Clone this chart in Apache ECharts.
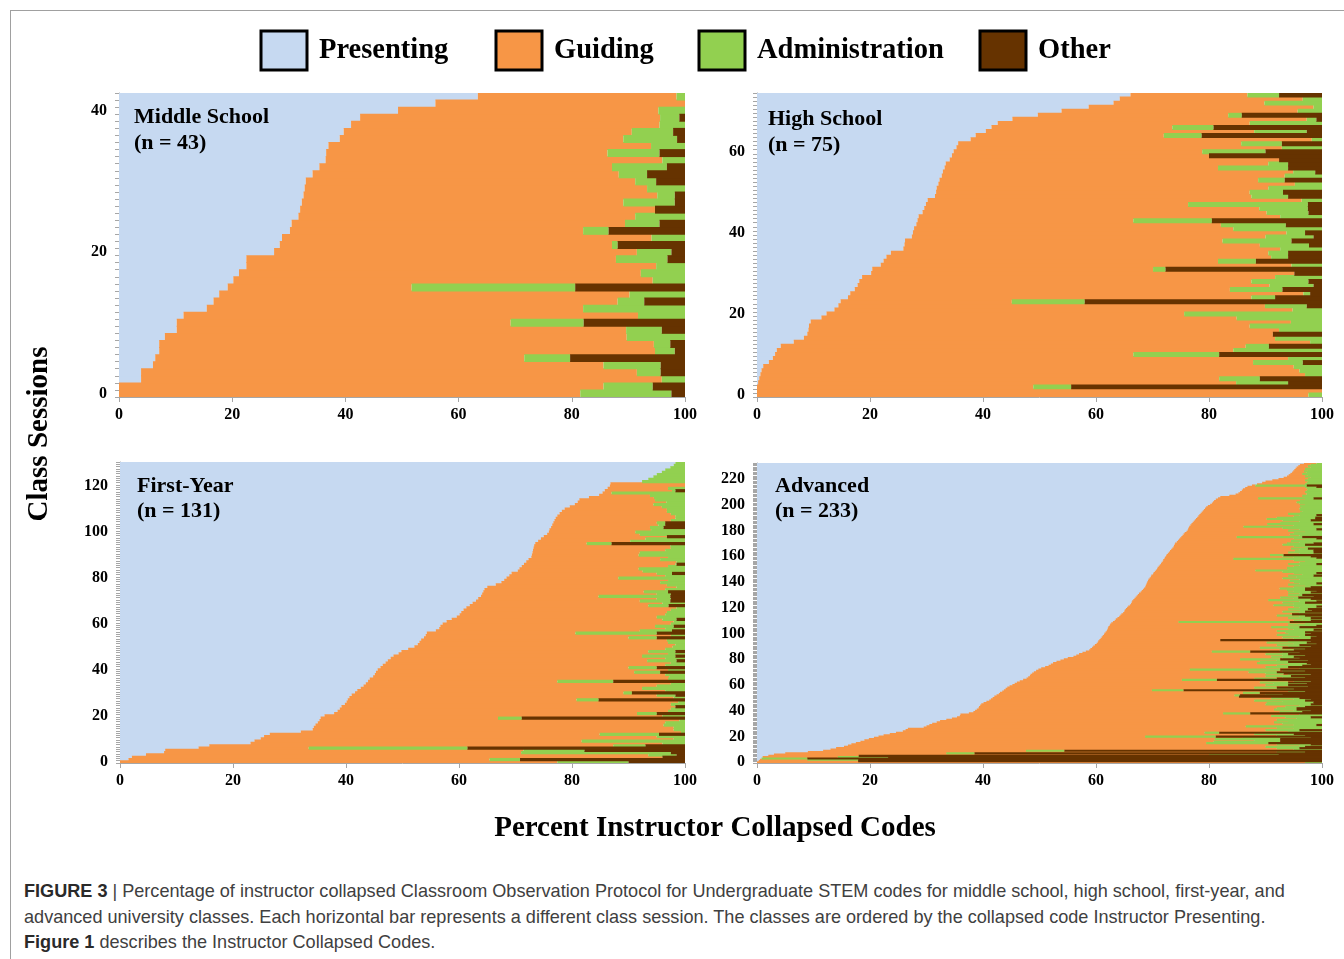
<!DOCTYPE html>
<html>
<head>
<meta charset="utf-8">
<title>Percent Instructor Collapsed Codes</title>
<script src="https://cdn.jsdelivr.net/npm/echarts@6/dist/echarts.min.js"></script>
<style>
  html, body { margin: 0; padding: 0; background: #fff; }
  #frame { position: absolute; left: 10px; top: 10px; width: 1340px; height: 960px;
           border-top: 1px solid #a0a0a0; border-left: 1px solid #a0a0a0; }
  #chart { position: absolute; left: 0; top: 0; width: 1344px; height: 870px; }
  #caption { position: absolute; left: 24px; top: 879px; font-family: "Liberation Sans", Arial, sans-serif;
             font-size: 18.1px; line-height: 25.5px; color: #404040; white-space: nowrap; }
  #caption b { color: #2a2a2a; }
</style>
</head>
<body>
<div id="frame"></div>
<div id="chart"></div>
<div id="caption"><b>FIGURE 3</b> | Percentage of instructor collapsed Classroom Observation Protocol for Undergraduate STEM codes for middle school, high school, first-year, and<br>advanced university classes. Each horizontal bar represents a different class session. The classes are ordered by the collapsed code Instructor Presenting.<br><b>Figure 1</b> describes the Instructor Collapsed Codes.</div>
<script>
// Code categories (stack order left to right) and their fills
const codeNames = ['Presenting', 'Guiding', 'Administration', 'Other'];
const codeColors = ['#c6d9f1', '#f79646', '#92d050', '#663300'];

// Panel headings
const panelTitles = ['Middle School', 'High School', 'First-Year', 'Advanced'];
const panelCounts = [43, 75, 131, 233];

// X tick values (percent)
const xTicks = [0, 20, 40, 60, 80, 100];

// ---- Middle School: one entry per class session, bottom to top ----
const msPresenting = [0,0,3.9,3.9,6,6.4,7.1,7.1,8.1,10.2,10.2,11.4,15.5,16.7,17.7,19.2,20.2,21.2,22.5,22.5,27.4,28.4,28.8,30.2,30.5,31.7,32,32.3,32.6,32.8,33,34.2,35.4,36.5,36.6,37,39,39.7,41,42.6,49.3,55.9,63.4];
const msGuiding = [81.5,85.6,92,87.6,79.6,65.2,87.6,87.4,81.6,79.4,59,80.3,66.5,71.4,72.5,32.5,74.1,71,72.4,65.3,64.1,58.7,65.3,51.8,58.9,59.5,62.7,56.8,62.5,60.5,58.2,54.1,51.7,59.5,49.7,57,50.1,50.9,54.5,53,46,44.1,35.1];
const msAdministration = [16.1,8.7,4.1,4.2,10.1,8.1,3.5,2.9,10.3,6.3,12.9,8.3,18,4.7,9.8,28.9,5.7,7.8,5.1,9.1,6.1,1,5.9,4.5,6.1,8.8,0,9.1,3.1,6.7,3.7,5,9.7,4,9.2,6,9.5,7.3,4.5,3.4,4.7,0,1.5];
const msOther = [2.4,5.7,0,4.3,4.3,20.3,1.8,2.6,0,4.1,17.9,0,0,7.2,0,19.4,0,0,0,3.1,2.4,11.9,0,13.5,4.5,0,5.3,1.8,1.8,0,5.1,6.7,3.2,0,4.5,0,1.4,2.1,0,1,0,0,0];

// ---- High School ----
const hsPresenting = [0,0,0,0.2,0.4,0.6,0.8,1.1,2.1,2.8,3.2,3.5,4.2,6.5,8.3,8.9,9.1,9.2,9.5,11.4,12.3,13.7,14.4,14.8,16.1,16.5,17.3,17.8,18.1,18.6,20.2,20.4,21.9,22.4,22.9,23.7,25.9,26.1,26.2,27.4,27.6,27.8,28.2,28.4,28.6,29.3,29.6,29.9,30.2,31.5,31.7,31.8,32.1,32.3,32.7,32.9,33.2,33.4,34.1,34.5,34.8,35.3,35.6,37.8,38.7,40.5,41.5,42.6,45.2,49.7,53.9,58.7,63.1,64.2,66.1];
const hsGuiding = [97.6,100,48.9,84.6,81.4,96.4,95.2,93.9,85.7,91.2,63.4,80.8,82.3,91.4,83.4,82.4,83.3,78,85,73.5,63.3,81.1,75.5,30.3,71.4,80.2,66.4,72.9,69.4,73.1,74.9,49.7,72.7,59.2,68.1,66.8,66.7,62.9,56.2,62.6,66.1,56.5,53.9,38.2,64,60.9,59.3,46.4,66.2,56,55.5,58.7,63.1,56.4,60.7,62,48.4,57.1,58.3,45.5,44,57.6,50.1,60.4,33.3,47.5,32,44.6,52.1,33.7,41.8,39.8,26.7,32.4,20.7];
const hsAdministration = [2.4,0,6.7,9.2,7.2,3,4,5,8.8,6,15.2,15.7,4.1,2.1,8.3,0,7.6,12.8,5.5,15.1,24.4,5.2,7.4,12.9,4.2,1.2,9.3,7.8,10.1,8.3,0,2.2,5.4,6.7,3,3.5,7.4,8.7,12.2,8.5,3.3,15.7,11.5,13.9,7.4,7.4,8.6,21.2,3.6,6.5,5.9,9.5,4.8,4.7,6.6,3.9,12.4,3.5,0,0,11.2,7.1,7.2,1.8,6.7,9.3,7.3,12.8,1.7,2.4,4.3,1.5,10.2,3.4,5.6];
const hsOther = [0,0,44.4,6,11,0,0,0,3.4,0,18.2,0,9.4,0,0,8.7,0,0,0,0,0,0,2.7,42,8.3,2.1,7,1.5,2.4,0,4.9,27.7,0,11.7,6,6,0,2.3,5.4,1.5,3,0,6.4,19.5,0,2.4,2.5,2.5,0,6,6.9,0,0,6.6,0,1.2,6,6,7.6,20,10,0,7.1,0,21.3,2.7,19.2,0,1,14.2,0,0,0,0,7.6];

// ---- First-Year ----
const fyPresenting = [0,1.5,2.1,4.6,7.8,8,13.9,15.8,23.1,23.8,24.9,25.5,26.5,32,34.1,34.3,34.6,35,35.3,35.5,36.2,37.9,38.5,38.9,39.2,39.8,40.1,40.3,40.6,41,41.6,42,42.6,43.1,43.5,43.9,44.2,44.8,45.1,45.3,45.6,46.1,46.5,47,47.4,47.9,48.4,49.3,49.8,51,52.1,52.7,53,53.3,53.8,54.1,54.3,55.9,56.5,56.7,57.1,57.8,58.7,59.6,60.1,60.4,60.8,61.3,61.9,62.4,63,63.4,63.9,64.1,64.3,64.5,65,66.5,67.5,68,68.4,68.9,69.3,70.4,70.7,71.1,71.5,71.9,72.3,72.8,72.9,73,73.1,73.2,73.3,73.5,74,74.5,75,75.6,75.9,76,76.3,76.5,76.7,76.9,77.1,77.4,77.8,78.2,78.7,79.6,80.5,81,81.3,83,84.8,85.4,85.8,86.3,86.7,86.8,92.4,93.5,94.4,95,95.9,96.5,97.4,98,98.3];
const fyGuiding = [77.4,63.9,93.9,88.9,63.2,63.4,19.5,71.5,72.9,57.9,73.1,69.5,58.4,67.3,63.9,63.7,61.6,61.5,63.7,31.4,59.8,53.6,58.5,58.6,59.1,57.7,58.7,40.5,57.4,54,47.5,54.5,49.8,51.9,54,33.5,52.8,52.4,51.4,45.7,51.4,43.9,50,50.5,45.9,48.6,44,47.7,43.7,45.5,45.7,45.6,44,43.5,36.2,43.4,26.3,36.1,40,38,40.4,40.2,37.3,35.4,36.4,36.4,36.7,37.2,31.6,33.6,29,31.6,20.8,30.9,28.4,32,33.5,30.3,28.1,29,19.8,27.6,25.7,22.1,21.1,25.9,26.8,26.6,23.3,24.2,18.9,19,23.4,24.3,24.1,9.1,16.3,18.5,21.8,16.4,15.3,18,17.5,18.8,18.3,20.6,21.2,20.9,19.7,18.6,18.1,16.3,13.9,15.7,13.4,11.5,9,1.6,11.9,10.7,13.3,13.2,0,0,0,0,0,0,0,0,0];
const fyAdministration = [12.6,5.4,0,5,26.5,10.8,28.1,5.7,4,18.3,2,5,10.5,0.7,2,2,3.8,3.5,1,4.2,4,3.5,3,2.5,0,2.5,1.2,3.9,2,3.3,1.5,3.5,7.6,5,2.5,9.9,3,2.8,3.5,4.6,3,5,3.5,2.5,5.2,3.5,5.9,3,4.8,3.5,2.2,1.7,3,3.2,5,2.5,14.4,5.7,3.5,3.3,2.5,2,2.5,5,3.5,3.2,2.5,1.5,3.6,4,5.4,2.5,12.7,2.5,4.3,3.5,1.5,3.2,4.4,3,11.8,3.5,2.7,7.5,8.2,3,0.2,1.5,4.4,3,8.2,8,3.5,2.5,2.6,4.4,9.7,7,0,8,8.8,6,2.4,1.2,1.5,2.5,1.7,1.7,2.5,3.2,3.2,4.1,5.6,3.3,5.3,5.5,6.2,13,0.6,3,0,0,7.6,6.5,5.6,5,4.1,3.5,2.6,2,1.7];
const fyOther = [10,29.2,4,1.5,2.5,17.8,38.5,7,0,0,0,0,4.6,0,0,0,0,0,0,28.9,0,5,0,0,1.7,0,0,15.3,0,1.7,9.4,0,0,0,0,12.7,0,0,0,4.4,0,5,0,0,1.5,0,1.7,0,1.7,0,0,0,0,0,5,0,5,2.3,0,2,0,0,1.5,0,0,0,0,0,2.9,0,2.6,2.5,2.6,2.5,3,0,0,0,0,0,0,0,2.3,0,0,0,1.5,0,0,0,0,0,0,0,0,13,0,0,3.2,0,0,0,3.8,3.5,3.5,0,0,0,0,0,0,0,0,0,0,0,0,0,1.7,0,0,0,0,0,0,0,0,0,0,0,0];

// ---- Advanced ----
const adPresenting = [0,0.3,0.5,0.8,1,2,3,5,9,11.7,13,14,15.4,16.1,16.7,17.5,18.3,19,19.8,20.7,21.5,22.4,23.5,24.6,25.8,26.3,26.7,29.5,30,30.5,31,31.8,32.4,33.5,34.5,35.4,35.9,36,37.5,38.3,38.6,38.9,39.2,39.3,39.5,39.7,40.1,40.6,41.1,41.4,41.7,42,42.4,42.8,43,43.4,43.7,44,44.3,44.7,45.2,45.6,46,46.5,47.1,47.7,48,48.3,48.4,48.7,49,49.4,49.8,50.3,51,51.6,52,52.4,53,53.7,54.3,55,56,56.5,57,57.6,58.2,58.8,59,59.3,59.5,59.8,60.1,60.3,60.4,60.6,60.8,61,61.2,61.4,61.5,61.7,61.9,62,62.1,62.2,62.4,62.5,62.7,63,63.3,63.5,63.8,64.1,64.3,64.5,64.8,65,65.1,65.3,65.5,65.7,66,66.2,66.3,66.4,66.6,66.8,67,67.2,67.4,67.6,67.9,68.1,68.3,68.5,68.7,68.8,68.9,69,69.1,69.2,69.3,69.5,69.7,69.8,70.1,70.2,70.4,70.6,70.8,70.9,71.1,71.3,71.5,71.6,71.8,71.9,72.1,72.2,72.4,72.5,72.7,72.9,73.1,73.3,73.5,73.7,73.8,73.9,74,74.3,74.5,74.7,74.9,75.1,75.3,75.5,75.7,76,76.2,76.3,76.4,76.5,76.7,76.9,77.1,77.3,77.5,77.7,77.9,78.1,78.3,78.5,78.7,78.9,79.1,79.3,79.5,79.8,80.2,80.5,80.7,80.9,81.2,81.6,82,83.6,84.7,85.2,85.5,85.8,86,86.4,86.8,87.6,88.5,89.4,90,91.2,92.3,93.2,93.8,94.1,94.4,94.7,94.9,95.1,95.3,95.5,95.8,96.1,96.8];
const adGuiding = [97,17.6,8.4,0,13.3,16,77,28.5,83,35.9,82,78,74.6,79.9,75.3,62,62.5,69,61.2,65.3,47.2,69.6,64.5,54.6,68.2,63.7,68.3,62.5,56.5,64.5,62,59.7,61.6,58.5,61,58.1,55.1,60,45,54.2,56.4,52.6,52.8,54.2,56.5,50.3,50.1,52.4,46.9,53.6,49.3,43.3,42.1,47.2,43,50.6,26.2,48,43.7,49.3,44.8,45.8,43,48.5,28.1,40.3,45,41.7,45.6,41.3,38,43.6,26.8,45.7,39,40.4,42,36.1,36,38.3,31.2,38,35,36.5,33,35.4,22.3,33.7,36,29.7,34.5,32.2,34.9,29.9,33.6,21.4,34.2,32,34.8,30.6,32.5,31.8,30.1,33,31.9,28.8,33.6,31.5,34.3,11.6,31.7,33,30.2,31.9,27.7,30.2,31.2,28,31,28.7,30.5,29.3,25.4,28.8,26.7,29.6,23.9,28.2,25.6,28.8,26.6,28.4,26.1,26.9,25.5,24,26.3,28.2,25.1,27,25.9,25.1,26.7,23.5,25.8,24.2,26.4,24.8,22.6,17.6,23.2,22.9,23.9,24.7,22.5,24.4,25.2,23.1,12.2,22.8,20.6,18.3,23.3,21.1,22.1,22.7,21,23.3,21.2,19.1,19.8,21.7,20,22.3,20.1,9.8,20.7,18.8,19.3,21,17.8,19.7,16.6,9.6,18.3,13.4,15.5,18.7,15.5,12.5,14.1,16.9,17.7,15.5,17.4,17.6,17,16.7,16.8,16.3,16.8,15.5,14.8,15.2,15.8,7.1,15,12.9,12.6,12.1,11.5,11.5,11.5,10.9,10.2,0.6,8.5,7.9,7.5,5.8,5.2,4.8,3.2,3.4,2.1,2.6,1.9,2.4,1.7,2.5,1.7,1.9,2.2];
const adAdministration = [3,0,9,8.1,8.9,0,12.3,5,5,6.8,5,4,7,4,6,11,11.8,4.6,11.6,12,12.5,5,7,2.6,6,6,5,8,13.5,4,7,8.5,6,8,4.5,4.5,9,4,4.8,4,3,4,3.5,3.5,4,8,8.3,5.5,9,3,5,0,1,3,3,3,5.6,3,4,3.5,4,5.9,5,3,6.2,4,4,4.5,4,3.2,5,4,16,4,4,4.5,4,8.8,5,5.5,7.1,3,4,4,4,3,6.8,2.5,2,4,4,4,4,7.1,4,0,3,5,3,5,4,3.5,8,3.5,6,5,3,6,3,19.7,3,3.5,4,4,5,0,4,4,2.1,3.5,4,4,8.6,5,4,3,9.5,3,3.2,2.5,2.5,4,4,4,3.2,4.5,3,3,6,3,5,5.7,4,7,4.5,4.5,3.5,4,7,11.8,6,6.2,5,4,5,4,3,5,15.7,4,5,2.4,4,4.5,3.3,2.5,3,3,5,4,4.7,4,5.5,3,4,11.6,4,5.7,5,3,6,3,7,13.9,5,8.2,7.4,4,5,8.6,6.8,5,3,6,3.9,3.5,3.9,4,3.7,3.9,3,4,4.5,3.9,3,9.8,3,3.5,2.7,2.7,3,2.7,2.5,2.7,2,9.1,3,2.7,2.5,3,2.5,2,3,2.5,3.5,2.7,3.2,2.5,3,2,2.5,2,1];
const adOther = [0,82.1,82.1,91.1,76.8,82,7.7,61.5,3,45.6,0,4,3,0,2,9.5,7.4,7.4,7.4,2,18.8,3,5,18.2,0,4,0,0,0,1,0,0,0,0,0,2,0,0,12.7,3.5,2,4.5,4.5,3,0,2,1.5,1.5,3,2,4,14.7,14.5,7,11,3,24.5,5,8,2.5,6,2.7,6,2,18.6,8,3,5.5,2,6.8,8,3,7.4,0,6,3.5,2,2.7,6,2.5,7.4,4,5,3,6,4,12.7,5,3,7,2,4,1,2.7,2,18,2,2,1,3,2,3,0,1.5,0,4,1,0,0,5.7,2,0,2,0,3,5.3,0,3,1.8,2.5,0,1,0,0,3,1,0,2,4.2,1.5,3.5,0,2,1,3,3,2,0,0,1,0,0,0,0,0,1.5,0,1,0,0,0,0,0,0,1,0,0,0,0,1,2,6.8,0,1.5,1.5,1.5,2.5,0,0,3,1.5,0,0,0,1,3.5,0,0,0,0,0,1,0,0,0,1.5,0,0,2,1.2,1.2,0,1,0,0,0,0,0,0,0,0,0,0,0,0,1.5,0,0,0,0,0,0,0,0,1,2.7,0,0,0,0,0,0,0,0,0,0,0,0,0,0,0,0,0];

const panelData = [
  [msPresenting, msGuiding, msAdministration, msOther],
  [hsPresenting, hsGuiding, hsAdministration, hsOther],
  [fyPresenting, fyGuiding, fyAdministration, fyOther],
  [adPresenting, adGuiding, adAdministration, adOther]
];

// Plot rectangles for the 2x2 layout
const gridBoxes = [
  { left: 119, top: 93,  width: 566, height: 304 },
  { left: 757, top: 93,  width: 565, height: 304 },
  { left: 120, top: 462, width: 565, height: 301 },
  { left: 757, top: 463, width: 565, height: 300 }
];
const titlePos = [[134, 104, 26], [768, 106, 26], [137, 474, 25], [775, 474, 25]];
// Legend swatch positions (outer left edge of each box)
const legendLefts = [258, 493, 696, 977];

const serif = '"Liberation Serif", "Times New Roman", serif';
const axisGray = '#a6a6a6';

const xAxes = gridBoxes.map((g, i) => ({
  gridIndex: i, type: 'value', min: xTicks[0], max: xTicks[xTicks.length - 1], interval: 20,
  axisLine: { show: true, lineStyle: { color: axisGray, width: 1 } },
  axisTick: { show: true, length: 5, lineStyle: { color: axisGray } },
  splitLine: { show: false },
  axisLabel: { color: '#000', fontFamily: serif, fontWeight: 'bold', fontSize: 16, margin: 10 }
}));

const yAxes = gridBoxes.map((g, i) => ({
  gridIndex: i, type: 'category',
  data: Array.from({ length: panelCounts[i] }, (_, k) => String(k)),
  axisLine: { show: true, lineStyle: { color: axisGray, width: 1 } },
  axisTick: { show: true, interval: 0, length: 4, lineStyle: { color: axisGray } },
  splitLine: { show: false },
  axisLabel: { interval: (idx) => idx % 20 === 0, color: '#000', fontFamily: serif,
               fontWeight: 'bold', fontSize: 16, margin: 12 }
}));

// Each session is a full-height band; a slight overlap hides anti-aliasing seams between rows
const series = [];
panelData.forEach((cols, i) => {
  const band = gridBoxes[i].height / panelCounts[i];
  cols.forEach((values, k) => {
    series.push({
      name: codeNames[k], type: 'bar', stack: 'panel' + i,
      xAxisIndex: i, yAxisIndex: i, data: values,
      barWidth: band + 0.9,
      itemStyle: { color: codeColors[k], borderWidth: 0 },
      silent: true, emphasis: { disabled: true }, z: 2
    });
  });
});

const graphics = panelTitles.map((t, i) => ({
  type: 'text', x: titlePos[i][0], y: titlePos[i][1], z: 100,
  style: { text: t + '\n(n = ' + panelCounts[i] + ')', font: 'bold 22px ' + serif,
           lineHeight: titlePos[i][2], fill: '#000' }
}));
graphics.push({
  type: 'text', x: 40, y: 434, rotation: Math.PI / 2, z: 100,
  style: { text: 'Class Sessions', font: 'bold 29px ' + serif, fill: '#000',
           textAlign: 'center', textVerticalAlign: 'middle' }
});
graphics.push({
  type: 'text', x: 715, y: 829, z: 100,
  style: { text: 'Percent Instructor Collapsed Codes', font: 'bold 29px ' + serif, fill: '#000',
           textAlign: 'center', textVerticalAlign: 'middle' }
});

const legends = codeNames.map((name, k) => ({
  data: [name], left: legendLefts[k] + 1.5, top: 29.5, padding: 0, icon: 'rect',
  itemWidth: 46, itemHeight: 39,
  itemStyle: { borderColor: '#000', borderWidth: 3 },
  textStyle: { fontFamily: serif, fontWeight: 'bold', fontSize: 28.5, color: '#000', padding: [0, 0, 0, 7] },
  selectedMode: false
}));

const chart = echarts.init(document.getElementById('chart'), null, { renderer: 'canvas' });
chart.setOption({
  animation: false,
  backgroundColor: 'transparent',
  legend: legends,
  grid: gridBoxes.map(g => Object.assign({ containLabel: false }, g)),
  xAxis: xAxes,
  yAxis: yAxes,
  series: series,
  graphic: graphics
});
</script>
</body>
</html>
